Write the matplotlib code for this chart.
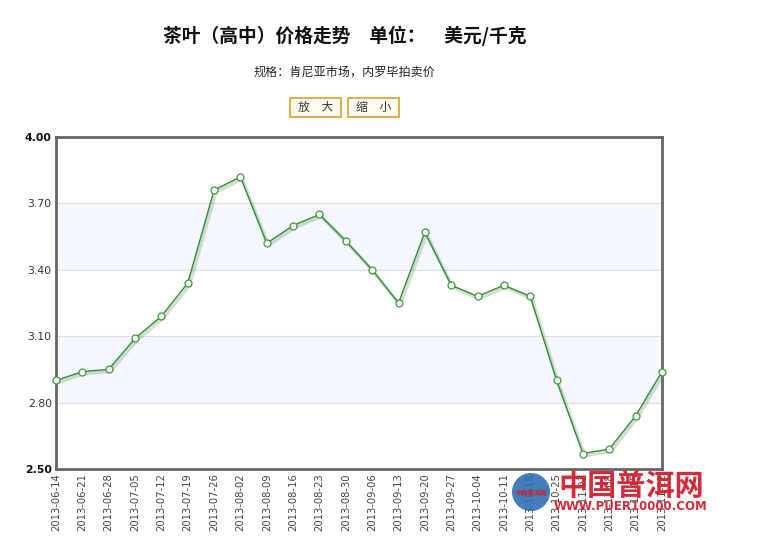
import matplotlib
matplotlib.use("Agg")
import matplotlib.pyplot as plt
import matplotlib.patheffects as pe
from matplotlib.patches import Ellipse, Rectangle

plt.rcParams['font.family'] = ['Noto Sans CJK SC', 'DejaVu Sans']

dates = ["2013-06-14", "2013-06-21", "2013-06-28", "2013-07-05", "2013-07-12",
         "2013-07-19", "2013-07-26", "2013-08-02", "2013-08-09", "2013-08-16",
         "2013-08-23", "2013-08-30", "2013-09-06", "2013-09-13", "2013-09-20",
         "2013-09-27", "2013-10-04", "2013-10-11", "2013-10-18", "2013-10-25",
         "2013-11-01", "2013-11-08", "2013-11-15", "2013-11-22"]
prices = [2.90, 2.94, 2.95, 3.09, 3.19, 3.34, 3.76, 3.82, 3.52, 3.60,
          3.65, 3.53, 3.40, 3.25, 3.57, 3.33, 3.28, 3.33, 3.28, 2.90,
          2.57, 2.59, 2.74, 2.94]
yticks = [2.50, 2.80, 3.10, 3.40, 3.70, 4.00]
ytick_labels = ["2.50", "2.80", "3.10", "3.40", "3.70", "4.00"]

W, H = 764, 542
fig = plt.figure(figsize=(W / 100, H / 100), dpi=100)
fig.patch.set_facecolor("white")

L, R, T, B = 56, 662, 137, 469
ax = fig.add_axes([L / W, (H - B) / H, (R - L) / W, (B - T) / H])

x = list(range(len(dates)))
ax.set_xlim(0, len(dates) - 1)
ax.set_ylim(2.50, 4.00)

# alternating bands
for i in range(len(yticks) - 1):
    if i % 2 == 1:
        ax.axhspan(yticks[i], yticks[i + 1], color="#f4f7fd", zorder=0, lw=0)
for yv in yticks[1:-1]:
    ax.axhline(yv, color="#e0dcea", lw=0.9, zorder=1)

ax.plot(x, prices, color="#2f8f2f", lw=1.0, zorder=3,
        path_effects=[pe.SimpleLineShadow(offset=(1.2, -1.5), shadow_color="#6f8f6f", alpha=0.3, linewidth=2.5),
                      pe.Normal()])
ax.plot(x, prices, linestyle="none", marker="o", markersize=5,
        markerfacecolor="white", markeredgecolor="#3c9a3c", markeredgewidth=0.9, zorder=4,
        clip_on=False)

for s in ax.spines.values():
    s.set_color("#666666")
    s.set_linewidth(2.0)

ax.set_yticks(yticks)
ax.set_yticklabels(ytick_labels)
for lab in ax.get_yticklabels():
    lab.set_fontsize(7.8)
    lab.set_color("#333333")
    lab.set_fontfamily(["DejaVu Sans"])
    if lab.get_text() in ("2.50", "4.00"):
        lab.set_fontweight("bold")
        lab.set_color("#111111")
ax.tick_params(axis="y", length=0, pad=3)

ax.set_xticks(x)
ax.set_xticklabels(dates, rotation=90, fontsize=7.2, color="#444444", fontfamily=["DejaVu Sans"])
ax.tick_params(axis="x", length=0, pad=3)

# titles
fig.text(345 / W, 1 - 36 / H, "茶叶（高中）价格走势　单位：　美元/千克", ha="center", va="center",
         fontsize=13.5, fontweight="bold", color="#111111")
fig.text(345 / W, 1 - 72 / H, "规格：肯尼亚市场，内罗毕拍卖价", ha="center", va="center",
         fontsize=8.7, color="#222222")

# buttons
for (bx0, bx1, label) in [(290, 341, "放　大"), (348, 399, "缩　小")]:
    fig.patches.append(Rectangle((bx0 / W, 1 - 117 / H), (bx1 - bx0) / W, 19 / H,
                                 transform=fig.transFigure, facecolor="#fffdf2",
                                 edgecolor="#d9a12e", lw=1.2))
    fig.text((bx0 + bx1) / 2 / W, 1 - 107.5 / H, label, ha="center", va="center",
             fontsize=8.5, color="#333333")

# watermark
fig.patches.append(Ellipse((531 / W, 1 - 492 / H), 38 / W, 38 / H, transform=fig.transFigure,
                           facecolor="#2f6fb5", edgecolor="none", alpha=0.9, zorder=5))
fig.text(531 / W, 1 - 492 / H, "中国普洱网", ha="center", va="center", fontsize=4.5,
         color="#cc2222", fontweight="bold", zorder=6)
fig.text(631 / W, 1 - 486 / H, "中国普洱网", ha="center", va="center", fontsize=21,
         color="#d42b3a", fontweight="bold", zorder=6)
fig.text(631 / W, 1 - 506 / H, "WWW.PUER10000.COM", ha="center", va="center", fontsize=8.5,
         color="#d42b3a", fontweight="bold", zorder=6, fontfamily=["DejaVu Sans"])

fig.savefig("out.png", dpi=100)
